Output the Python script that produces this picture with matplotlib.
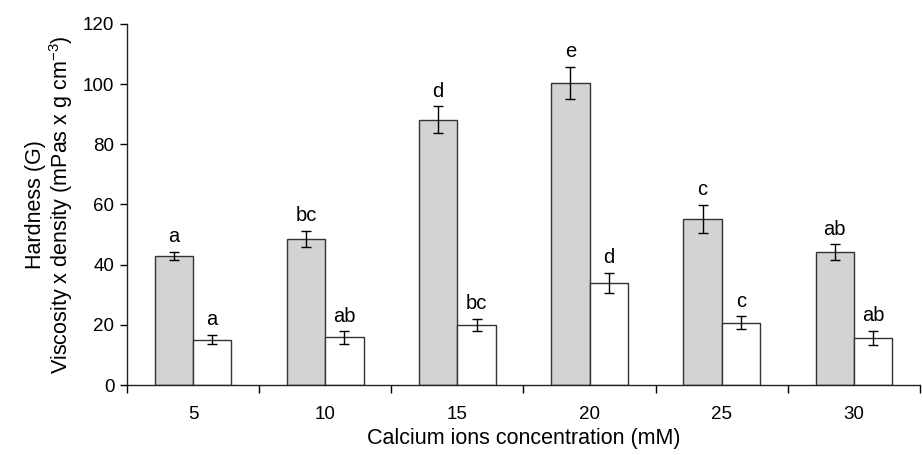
import numpy as np
import matplotlib
matplotlib.use('Agg')
import matplotlib.pyplot as plt
from matplotlib.ticker import FixedLocator, NullFormatter, FixedFormatter

plt.rcParams['font.family'] = ['Liberation Sans', 'DejaVu Sans']
plt.rcParams['mathtext.fontset'] = 'custom'
plt.rcParams['mathtext.rm'] = 'Liberation Sans'
plt.rcParams['mathtext.it'] = 'Liberation Sans:italic'

# data
concentrations = ['5', '10', '15', '20', '25', '30']
hardness = [42.9, 48.6, 88.1, 100.5, 55.2, 44.2]
hardness_err = [1.4, 2.7, 4.5, 5.3, 4.7, 2.6]
hardness_letters = ['a', 'bc', 'd', 'e', 'c', 'ab']
viscosity = [15.1, 15.8, 20.0, 33.9, 20.7, 15.7]
viscosity_err = [1.6, 2.0, 2.0, 3.4, 2.2, 2.3]
viscosity_letters = ['a', 'ab', 'bc', 'd', 'c', 'ab']

fig = plt.figure(figsize=(9.22, 4.55), dpi=100, facecolor='white')
ax = fig.add_axes([0.1377, 0.1538, 0.8601, 0.7935])

x = np.arange(len(concentrations))
w = 0.29
err_kw = dict(ecolor='black', elinewidth=1, capsize=3.5, capthick=1)
ax.bar(x - w / 2, hardness, w, yerr=hardness_err, color='#d2d3d2', edgecolor='#333333',
       linewidth=1, error_kw=err_kw)
ax.bar(x + w / 2, viscosity, w, yerr=viscosity_err, color='white', edgecolor='#333333',
       linewidth=1, error_kw=err_kw)

for xi, v, e, t in zip(x - w / 2, hardness, hardness_err, hardness_letters):
    ax.text(xi, v + e + 1.8, t, ha='center', va='bottom', fontsize=14.5)
for xi, v, e, t in zip(x + w / 2, viscosity, viscosity_err, viscosity_letters):
    ax.text(xi, v + e + 1.8, t, ha='center', va='bottom', fontsize=14.5)

ax.set_xlim(-0.5, len(concentrations) - 0.5)
ax.set_ylim(0, 120)
ax.set_yticks(np.arange(0, 121, 20))

# boundary ticks, labels at category centres
ax.xaxis.set_major_locator(FixedLocator(np.arange(-0.5, len(concentrations))))
ax.xaxis.set_major_formatter(NullFormatter())
ax.xaxis.set_minor_locator(FixedLocator(x))
ax.xaxis.set_minor_formatter(FixedFormatter(concentrations))
ax.tick_params(axis='x', which='major', direction='out', length=6, width=1)
ax.tick_params(axis='x', which='minor', length=0, pad=15, labelsize=13.5)
ax.tick_params(axis='y', direction='out', length=5, width=1, labelsize=13.5, pad=4)

for s in ['top', 'right']:
    ax.spines[s].set_visible(False)
for s in ['left', 'bottom']:
    ax.spines[s].set_color('#222222')
    ax.spines[s].set_linewidth(1)

ax.set_xlabel('Calcium ions concentration (mM)', fontsize=15.5, labelpad=4)
ax.set_ylabel('Hardness (G)\nViscosity x density (mPas x g cm$^{-3}$)', fontsize=15.5,
              labelpad=6, linespacing=1.05)

fig.savefig('out.png', dpi=100, facecolor='white')
